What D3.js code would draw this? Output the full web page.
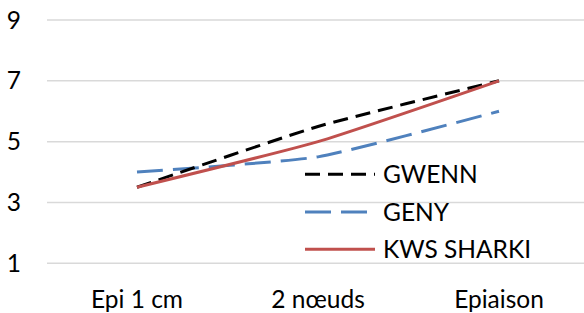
<!DOCTYPE html>
<html><head><meta charset="utf-8">
<script src="https://cdn.jsdelivr.net/npm/d3@7"></script>
<style>html,body{margin:0;padding:0;background:#fff;}svg{display:block;}</style>
</head><body>
<script>
const categories = ["Epi 1 cm", "2 nœuds", "Epiaison"];
const seriesNames = ["GWENN", "GENY", "KWS SHARKI"];
const gwenn = [3.5, 5.5, 7];
const geny = [4, 4.5, 6];
const kwsSharki = [3.5, 5, 7];
const yTicks = [1, 3, 5, 7, 9];

const W = 584, H = 313;
const font = "Lato, 'Open Sans', sans-serif";
const fs = 24.5;
const series = [
  {name: seriesNames[0], values: gwenn, color: "#000000", dash: "15,8"},
  {name: seriesNames[1], values: geny, color: "#4F81BD", dash: "26,10"},
  {name: seriesNames[2], values: kwsSharki, color: "#C0504D", dash: null}
];

const svg = d3.select("body").append("svg").attr("width", W).attr("height", H);
const x = d3.scalePoint().domain(categories).range([137, 499]);
const y = d3.scaleLinear().domain([1, 9]).range([263.3, 20]);

// gridlines
svg.append("g").selectAll("line").data(yTicks).join("line")
  .attr("x1", 47).attr("x2", W)
  .attr("y1", d => y(d)).attr("y2", d => y(d))
  .attr("stroke", "#D9D9D9").attr("stroke-width", 1.5);

// y labels
svg.append("g").selectAll("text").data(yTicks).join("text")
  .attr("x", 21).attr("y", d => y(d) + 8.5)
  .attr("text-anchor", "end")
  .attr("font-family", font).attr("font-size", fs).attr("fill", "#000")
  .text(d => d);

// x labels
svg.append("g").selectAll("text").data(categories).join("text")
  .attr("x", d => x(d)).attr("y", 308)
  .attr("text-anchor", "middle")
  .attr("font-family", font).attr("font-size", fs).attr("fill", "#000")
  .text(d => d);

const line = d3.line()
  .x((d, i) => x(categories[i]))
  .y(d => y(d))
  .curve(d3.curveCardinal.tension(0.5));

// draw order: GENY, GWENN, KWS (red on top)
[series[1], series[0], series[2]].forEach(s => {
  svg.append("path").datum(s.values)
    .attr("d", line)
    .attr("fill", "none")
    .attr("stroke", s.color)
    .attr("stroke-width", 3)
    .attr("stroke-dasharray", s.dash)
    .attr("stroke-linejoin", "round");
});

// legend
const legendY = [174.3, 212, 249.3];
const lg = svg.append("g");
series.forEach((s, i) => {
  lg.append("line")
    .attr("x1", 305).attr("x2", 375)
    .attr("y1", legendY[i]).attr("y2", legendY[i])
    .attr("stroke", s.color).attr("stroke-width", 3)
    .attr("stroke-dasharray", s.dash);
  lg.append("text")
    .attr("x", 383).attr("y", legendY[i] + 8.5)
    .attr("font-family", font).attr("font-size", fs).attr("fill", "#000")
    .text(s.name);
});
</script>
</body></html>
